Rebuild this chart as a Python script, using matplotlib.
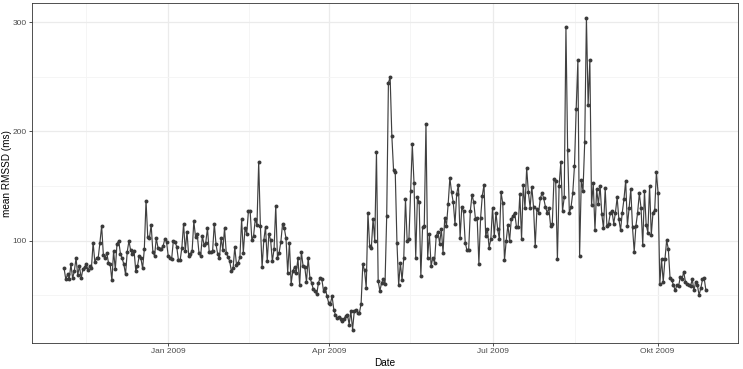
import numpy as np
import pandas as pd
import matplotlib
matplotlib.use("Agg")
import matplotlib.pyplot as plt
from matplotlib.ticker import FixedLocator

plt.rcParams['font.family'] = ['Liberation Sans', 'DejaVu Sans']

start_date = "2008-11-04"
end_date = "2009-10-28"

rmssd = [
    # Nov - Dec 2008
    74.6, 64.5, 69.1, 64.5, 78.3, 65.4, 72.2, 83.8, 68.5, 76.7, 65.4, 73.7, 75.8, 78.3, 72.8, 76.7,
    74.6, 98.2, 80.7, 83.8, 84.4, 98.2, 113.5, 86.9, 83.8, 89.0, 79.8, 78.3, 63.6, 90.5, 73.7, 97.3,
    99.7, 88.0, 83.8, 78.3, 69.1, 89.9, 99.7, 91.1, 88.0, 90.5, 72.2, 76.7, 86.0, 83.8, 74.6, 92.0,
    136.5,
    # Dec 2008 - Feb 2009
    103.4, 102.2, 114.4, 89.9, 85.9, 102.2, 93.6, 92.1, 92.1, 95.1, 101.3, 99.1, 85.9, 84.4, 82.9, 99.7,
    99.1, 94.2, 82.0, 82.0, 93.6, 115.6, 90.5, 108.3, 85.9, 88.0, 90.5, 117.5, 103.4, 105.9, 89.0, 85.9,
    104.3, 96.0, 98.2, 111.4, 89.9, 89.9, 90.5, 115.6, 96.6, 87.5, 83.8, 102.8, 91.1, 111.4, 89.0,
    # Feb - Mar 2009
    85.0, 81.3, 72.2, 74.6, 94.2, 77.7, 79.8, 85.0, 119.7, 89.0, 111.4, 106.4, 127.3, 127.3, 100.3, 104.3,
    119.7, 114.4, 171.7, 113.5, 75.8, 100.3, 112.6, 81.3, 106.4, 100.3, 81.3, 92.1, 131.9, 84.4, 89.0, 99.1,
    115.6, 111.4, 102.2, 70.6, 98.2, 60.5, 72.2, 75.8, 70.6, 83.8, 59.3, 89.9, 76.7,
    # Mar - Apr 2009
    75.8, 62.3, 84.4, 66.0, 61.4, 55.3, 53.8, 50.7, 61.4, 66.0, 64.5, 53.8, 56.8, 49.2, 43.0, 42.1,
    49.2, 36.9, 31.7, 29.2, 29.8, 28.7, 26.2, 28.7, 30.8, 32.3, 23.2, 35.4, 18.6, 35.4, 36.9, 33.8,
    33.8, 42.1, 78.3, 72.8, 56.8, 125.7, 95.1, 93.6, 119.7, 99.7, 180.9,
    # May - Jun 2009
    63.0, 53.8, 61.4, 64.5, 59.9, 122.7, 244.3, 249.8, 196.2, 164.7, 162.5, 98.2, 59.3, 79.8, 63.6, 84.4,
    138.0, 99.7, 101.3, 145.7, 188.0, 152.4, 84.4, 140.2, 134.9, 67.6, 112.0, 113.5, 207.0, 84.4, 106.4, 76.7,
    84.4, 79.8, 104.3, 108.3, 97.3, 110.5, 89.0, 121.1, 113.5, 133.5, 157.4, 144.1, 134.9, 115.1,
    # Jun - Aug 2009
    142.7, 151.2, 102.8, 131.0, 126.7, 98.2, 91.2, 91.2, 127.3, 142.0, 134.9, 119.7, 120.6, 79.0, 120.6, 141.1,
    151.2, 104.3, 110.5, 93.6, 101.3, 130.3, 104.3, 125.7, 110.5, 101.3, 144.1, 134.0, 82.0, 99.7, 114.4, 99.7,
    119.7, 122.7, 125.7, 112.6, 112.0, 142.7, 101.3, 151.2, 129.7, 166.5, 144.1, 130.3, 149.4, 131.0, 95.1, 128.8,
    # Aug - Sep 2009
    125.7, 138.6, 143.6, 138.6, 130.8, 125.6, 129.7, 113.5, 115.6, 156.4, 154.2, 82.9, 150.3, 171.7, 127.3, 139.5,
    295.2, 183.1, 125.1, 130.8, 143.6, 168.3, 220.2, 265.2, 85.9, 155.3, 145.7, 190.0, 304.0, 224.4, 265.3, 132.6,
    152.4, 109.8, 147.1, 133.3, 150.3, 124.3, 111.1, 147.8, 113.5, 115.6, 125.1, 126.7, 115.6, 125.7, 139.5,
    # Sep - Oct 2009
    119.7, 109.6, 125.7, 138.0, 154.9, 113.5, 129.7, 147.1, 112.0, 89.9, 113.5, 125.7, 143.2, 129.7, 96.0, 145.7,
    114.4, 107.4, 150.3, 105.2, 125.7, 127.9, 162.5, 143.2, 60.5, 82.9, 62.3, 82.9, 100.3, 92.1, 65.4, 63.6,
    59.3, 54.4, 59.3, 58.4, 66.6, 64.5, 71.5, 62.3, 60.5, 59.3, 58.4, 64.5, 54.4, 62.3, 59.3, 50.1,
    56.3, 64.5, 65.4, 54.4,
]

x_major = ["2009-01-01", "2009-04-01", "2009-07-01", "2009-10-01"]
x_labels = ["Jan 2009", "Apr 2009", "Jul 2009", "Okt 2009"]
x_minor = ["2008-11-16", "2009-02-15", "2009-05-16", "2009-08-16"]
y_major = [100, 200, 300]
y_minor = [50, 150, 250]

t0 = pd.Timestamp(start_date)
t1 = pd.Timestamp(end_date)
dates = pd.to_datetime(np.linspace(t0.value, t1.value, len(rmssd)))

fig = plt.figure(figsize=(7.43, 3.69), dpi=100)
ax_left, ax_right, ax_top, ax_bottom = 32, 738, 3, 343.3
ax = fig.add_axes([ax_left / 743, 1 - ax_bottom / 369, (ax_right - ax_left) / 743, (ax_bottom - ax_top) / 369])

ax.plot(dates, rmssd, color="#404040", lw=0.85, zorder=3)
ax.scatter(dates, rmssd, s=8, color="#3a3a3a", zorder=4, linewidths=0)

span = t1 - t0
ax.set_xlim(t0 - span * 0.05, t1 + span * 0.05)
ax.set_ylim(6, 317.5)

ax.xaxis.set_major_locator(FixedLocator(matplotlib.dates.date2num(pd.to_datetime(x_major))))
ax.xaxis.set_minor_locator(FixedLocator(matplotlib.dates.date2num(pd.to_datetime(x_minor))))
ax.set_xticklabels(x_labels)
ax.yaxis.set_major_locator(FixedLocator(y_major))
ax.yaxis.set_minor_locator(FixedLocator(y_minor))

ax.grid(which="major", color="#ebebeb", lw=0.9, zorder=0)
ax.grid(which="minor", color="#f4f4f4", lw=0.6, zorder=0)
ax.set_axisbelow(True)

for s in ax.spines.values():
    s.set_color("#333333")
    s.set_linewidth(0.6)

ax.tick_params(which="major", length=2.2, width=0.6, color="#333333", labelsize=6,
               labelcolor="#4d4d4d", pad=1.5)
ax.tick_params(which="minor", length=0)

ax.set_xlabel("Date", fontsize=7.2, labelpad=2)
ax.set_ylabel("mean RMSSD (ms)", fontsize=7.2)
ax.yaxis.set_label_coords((12 - ax_left) / (ax_right - ax_left), 0.5)

fig.savefig("out.png", dpi=100)
